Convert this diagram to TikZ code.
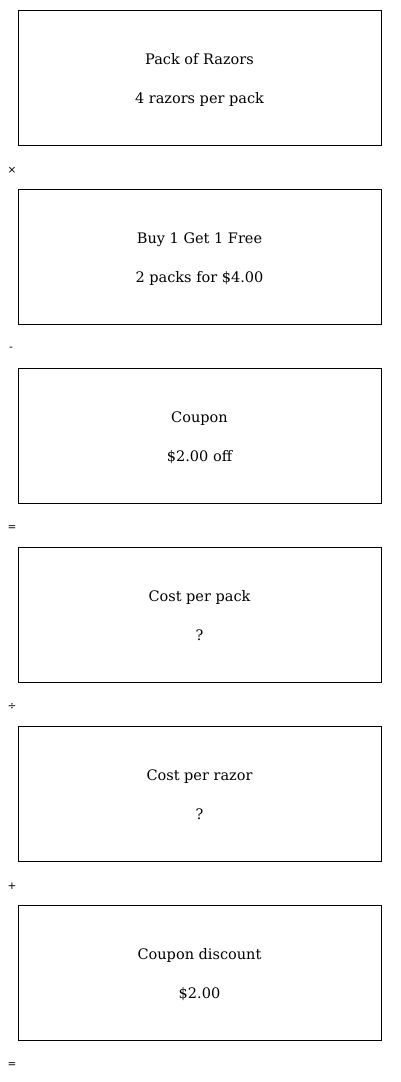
\documentclass[tikz,border=0pt]{standalone}
\usepackage{fontspec}
\setmainfont{DejaVu Serif}
\newfontfamily\opfont{DejaVu Sans}
\usepackage{tikz}
\usetikzlibrary{positioning}

\tikzset{
    stepbox/.style={draw,line width=0.8pt,minimum width=363pt,minimum height=135pt,
        align=center,font=\fontsize{14.5}{39}\selectfont,
        text height=54pt,text depth=3pt},
    opsign/.style={font=\opfont\fontsize{10.5}{12}\selectfont}
}

\begin{document}
\begin{tikzpicture}[x=1pt,y=-1pt]
    \useasboundingbox (0,0) rectangle (400,1082);

    % Boxes
    \node[stepbox] (pack) at (199.5,77.5) {Pack of Razors\\4 razors per pack};
    \node[stepbox] (bogo) at (199.5,256.5) {Buy 1 Get 1 Free\\2 packs for \$4.00};
    \node[stepbox] (coupon) at (199.5,435.5) {Coupon\\\$2.00 off};
    \node[stepbox] (perpack) at (199.5,614.5) {Cost per pack\\?};
    \node[stepbox] (perrazor) at (199.5,793.5) {Cost per razor\\?};
    \node[stepbox] (discount) at (199.5,972.5) {Coupon discount\\\$2.00};

    % Operators
    \node[opsign] (times) at (12,170) {×};
    \node[opsign] (minus) at (11,349) {-};
    \node[opsign] (eqa) at (12,528) {=};
    \node[opsign] (divide) at (12,707) {÷};
    \node[opsign] (plus) at (12,886) {+};
    \node[opsign] (eqb) at (12,1065) {=};
\end{tikzpicture}
\end{document}
